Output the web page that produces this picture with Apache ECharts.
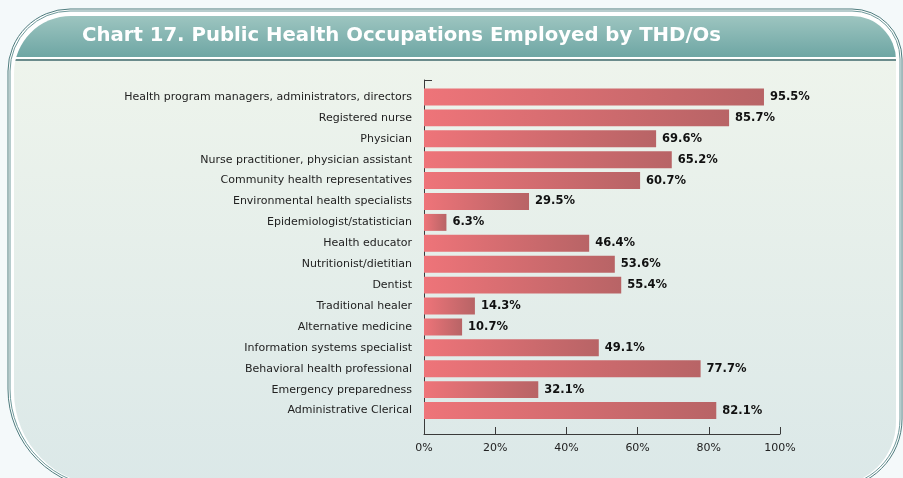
<!DOCTYPE html>
<html>
<head>
<meta charset="utf-8">
<script src="https://cdn.jsdelivr.net/npm/echarts@6/dist/echarts.min.js"></script>
<style>
  html, body { margin: 0; padding: 0; background: #f4f9fa; }
  #main { width: 903px; height: 478px; }
</style>
</head>
<body>
<div id="main"></div>
<script>
  // data
  var occupations = [
    'Health program managers, administrators, directors',
    'Registered nurse',
    'Physician',
    'Nurse practitioner, physician assistant',
    'Community health representatives',
    'Environmental health specialists',
    'Epidemiologist/statistician',
    'Health educator',
    'Nutritionist/dietitian',
    'Dentist',
    'Traditional healer',
    'Alternative medicine',
    'Information systems specialist',
    'Behavioral health professional',
    'Emergency preparedness',
    'Administrative Clerical'
  ];
  // bar lengths as drawn (rows 3 and 4 are drawn swapped against their printed labels)
  var barLengths = [95.5, 85.7, 65.2, 69.6, 60.7, 29.5, 6.3, 46.4, 53.6, 55.4, 14.3, 10.7, 49.1, 77.7, 32.1, 82.1];
  // the labels as printed next to each bar
  var printedLabels = ['95.5%', '85.7%', '69.6%', '65.2%', '60.7%', '29.5%', '6.3%', '46.4%', '53.6%', '55.4%', '14.3%', '10.7%', '49.1%', '77.7%', '32.1%', '82.1%'];
  var titleText = 'Chart 17. Public Health Occupations Employed by THD/Os';

  var FONT = '"DejaVu Sans", sans-serif';
  var myChart = echarts.init(document.getElementById('main'));

  myChart.setOption({
    backgroundColor: '#f4f9fa',
    animation: false,
    graphic: [
      // outer double border of the frame
      {
        type: 'rect', z: -10, silent: true,
        shape: { x: 8, y: 9, width: 894, height: 480, r: [62, 50, 70, 100] },
        style: { fill: '#ffffff', stroke: '#4d7b7d', lineWidth: 1 }
      },
      {
        type: 'rect', z: -9, silent: true,
        shape: { x: 10, y: 11, width: 890, height: 476, r: [60, 48, 68, 98] },
        style: { fill: '#ffffff', stroke: '#6f9a9b', lineWidth: 1 }
      },
      // inner panel: header band, separator and body in one gradient
      {
        type: 'rect', z: -8, silent: true,
        shape: { x: 14, y: 16, width: 882, height: 470, r: [57, 44, 64, 94] },
        style: {
          fill: new echarts.graphic.LinearGradient(0, 0, 0, 1, [
            { offset: 0, color: '#9dc5c0' },
            { offset: 0.087, color: '#6ea6a4' },
            { offset: 0.0871, color: '#ffffff' },
            { offset: 0.0915, color: '#ffffff' },
            { offset: 0.0916, color: '#6b8c8c' },
            { offset: 0.0958, color: '#6b8c8c' },
            { offset: 0.0959, color: '#eef4ec' },
            { offset: 1, color: '#dbe8e8' }
          ])
        }
      },
      {
        type: 'text', z: 10, silent: true,
        left: 82, top: 26,
        style: { text: titleText, fill: '#ffffff', font: 'bold 19.7px ' + FONT }
      }
    ],
    grid: [
      // bars
      { left: 424, right: 123, top: 86.5, height: 334.5 },
      // axis frame (lines, ticks, percent labels)
      { left: 424, right: 123, top: 80, height: 354 }
    ],
    xAxis: [
      {
        gridIndex: 0, type: 'value', min: 0, max: 100, show: false
      },
      {
        gridIndex: 1, type: 'value', min: 0, max: 100, interval: 20,
        axisLine: { show: true, lineStyle: { color: '#3a3a3a', width: 1 } },
        axisTick: { show: true, inside: true, length: 7, lineStyle: { color: '#3a3a3a' } },
        splitLine: { show: false },
        axisLabel: {
          formatter: '{value}%', color: '#222', fontFamily: FONT, fontSize: 11, margin: 9
        }
      }
    ],
    yAxis: [
      {
        gridIndex: 0, type: 'category', data: occupations, inverse: true,
        axisLine: { show: false },
        axisTick: { show: false },
        axisLabel: { color: '#222', fontFamily: FONT, fontSize: 11, margin: 12 }
      },
      {
        gridIndex: 1, type: 'value', min: 0, max: 1, interval: 1,
        axisLine: { show: true, lineStyle: { color: '#3a3a3a', width: 1 } },
        axisTick: { show: true, inside: true, length: 8, lineStyle: { color: '#3a3a3a' } },
        axisLabel: { show: false },
        splitLine: { show: false }
      }
    ],
    series: [{
      type: 'bar',
      xAxisIndex: 0,
      yAxisIndex: 0,
      data: barLengths,
      barCategoryGap: '19%',
      itemStyle: {
        color: new echarts.graphic.LinearGradient(0, 0, 1, 0, [
          { offset: 0, color: '#ee7479' },
          { offset: 1, color: '#b86466' }
        ])
      },
      label: {
        show: true,
        position: 'right',
        distance: 6,
        formatter: function (p) { return printedLabels[p.dataIndex]; },
        color: '#111',
        fontFamily: FONT,
        fontWeight: 'bold',
        fontSize: 11.5
      }
    }]
  });
</script>
</body>
</html>
